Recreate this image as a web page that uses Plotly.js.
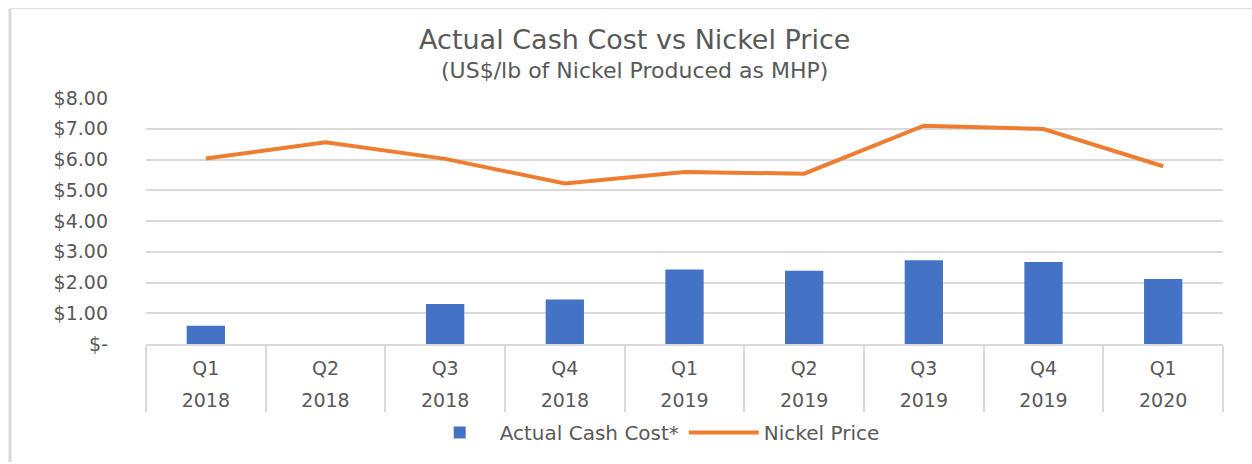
<!DOCTYPE html>
<html>
<head>
<meta charset="utf-8">
<script src="https://cdn.plot.ly/plotly-3.0.1.min.js"></script>
<style>
  html, body { margin: 0; padding: 0; background: #ffffff; }
  #chart { width: 1252px; height: 464px; }
</style>
</head>
<body>
<div id="chart"></div>
<script>
// ---- data ----
const quarters = ['Q1', 'Q2', 'Q3', 'Q4', 'Q1', 'Q2', 'Q3', 'Q4', 'Q1'];
const years = ['2018', '2018', '2018', '2018', '2019', '2019', '2019', '2019', '2020'];
const cashCost = [0.59, null, 1.30, 1.45, 2.42, 2.38, 2.72, 2.67, 2.11];
const nickelPrice = [6.03, 6.56, 6.02, 5.22, 5.59, 5.54, 7.10, 6.99, 5.78];
const yTickVals = [0, 1, 2, 3, 4, 5, 6, 7, 8];
const yTickText = ['$-', '$1.00', '$2.00', '$3.00', '$4.00', '$5.00', '$6.00', '$7.00', '$8.00'];
const seriesNames = ['Actual Cash Cost*', 'Nickel Price'];
const titleText = 'Actual Cash Cost vs Nickel Price';
const subtitleText = '(US$/lb of Nickel Produced as MHP)';

// ---- build ----
const keys = quarters.map((q, i) => q + ' ' + years[i]);
const FONT = 'DejaVu Sans, Open Sans, sans-serif';
const TXT = '#595959';
const GRID = '#d9d9d9';

const traces = [
  {
    type: 'bar',
    name: seriesNames[0],
    x: keys,
    y: cashCost,
    marker: { color: '#4472C4' },
    xaxis: 'x',
    yaxis: 'y'
  },
  {
    type: 'scatter',
    mode: 'lines',
    name: seriesNames[1],
    x: keys,
    y: nickelPrice,
    line: { color: '#ED7D31', width: 4 },
    xaxis: 'x2',
    yaxis: 'y'
  }
];

const layout = {
  width: 1252,
  height: 464,
  paper_bgcolor: '#ffffff',
  plot_bgcolor: '#ffffff',
  margin: { l: 146, r: 29, t: 98, b: 118 },
  font: { family: FONT, color: TXT, size: 18 },
  title: {
    text: titleText,
    font: { family: FONT, size: 27, color: TXT },
    x: 0.507,
    xanchor: 'center',
    y: 1 - 40 / 464,
    yanchor: 'middle'
  },
  annotations: [
    {
      text: subtitleText,
      xref: 'paper', yref: 'paper',
      x: 0.454, y: (346 - 70) / 248,
      xanchor: 'center', yanchor: 'middle',
      showarrow: false,
      font: { family: FONT, size: 22, color: TXT }
    }
  ],
  bargap: 0.68,
  showlegend: true,
  legend: {
    orientation: 'h',
    x: 0.47,
    xanchor: 'center',
    y: -0.36,
    yanchor: 'middle',
    font: { family: FONT, size: 20, color: TXT },
    traceorder: 'normal',
    itemwidth: 70
  },
  xaxis: {
    type: 'category',
    range: [-0.5, keys.length - 0.5],
    tickmode: 'array',
    tickvals: keys,
    ticktext: quarters,
    ticks: 'outside',
    tickson: 'boundaries',
    ticklen: 66,
    tickwidth: 2,
    tickcolor: GRID,
    ticklabelstandoff: 6,
    showline: true,
    linecolor: GRID,
    linewidth: 2,
    showgrid: false,
    zeroline: false,
    tickfont: { family: FONT, size: 19, color: TXT },
    fixedrange: true
  },
  xaxis2: {
    type: 'category',
    overlaying: 'x',
    matches: 'x',
    anchor: 'y',
    side: 'bottom',
    tickmode: 'array',
    tickvals: keys,
    ticktext: years,
    ticks: '',
    ticklabelstandoff: 43,
    showline: false,
    showgrid: false,
    zeroline: false,
    tickfont: { family: FONT, size: 19, color: TXT },
    fixedrange: true
  },
  yaxis: {
    range: [0, 8],
    tickmode: 'array',
    tickvals: yTickVals,
    ticktext: yTickText,
    showgrid: true,
    gridcolor: GRID,
    gridwidth: 2,
    zeroline: false,
    showline: false,
    ticks: '',
    ticklabelstandoff: 37,
    tickfont: { family: FONT, size: 19, color: TXT },
    fixedrange: true
  },
  shapes: [
    { type: 'line', xref: 'paper', yref: 'paper', x0: -0.1263, x1: -0.1263, y0: 1.363, y1: -0.48,
      line: { color: GRID, width: 3 } },
    { type: 'line', xref: 'paper', yref: 'paper', x0: -0.1263, x1: 1.03, y0: 1.363, y1: 1.363,
      line: { color: GRID, width: 1 } }
  ]
};

Plotly.newPlot('chart', traces, layout, { displayModeBar: false, staticPlot: true });
</script>
</body>
</html>
